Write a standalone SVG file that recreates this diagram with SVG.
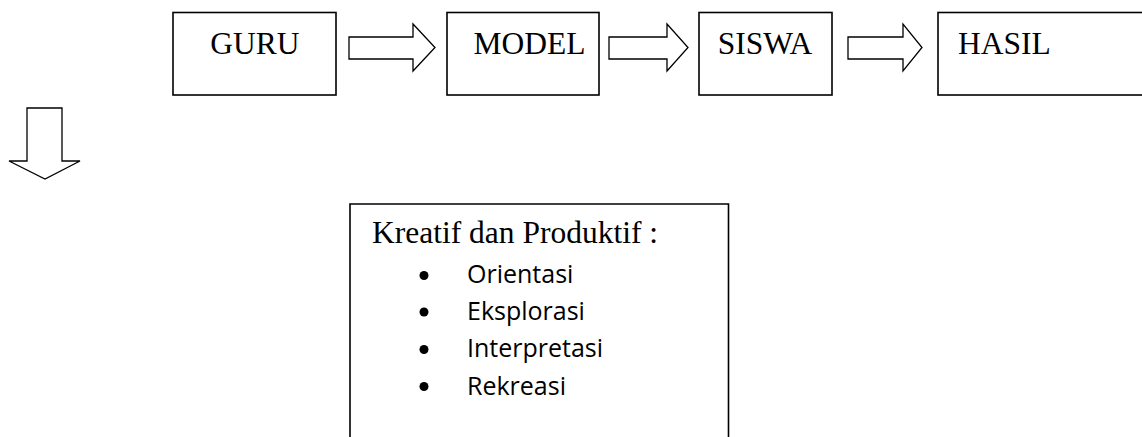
<svg xmlns="http://www.w3.org/2000/svg" width="1142" height="437" viewBox="0 0 1142 437">
<style>
.box{fill:#fff;stroke:#000;stroke-width:1.6}
.arr{fill:#fff;stroke:#000;stroke-width:1.3;stroke-linejoin:miter}
.t{font-family:"Liberation Serif","Times New Roman",serif;font-size:31.5px;fill:#000}
.b{font-family:"Open Sans","Noto Sans",sans-serif;font-size:25px;fill:#000}
</style>
<rect width="1142" height="437" fill="#fff"/>
<g id="guru"><rect class="box" x="173" y="12.5" width="163" height="82.5"/><text class="t" x="255" y="54" text-anchor="middle">GURU</text></g>
<g id="model"><rect class="box" x="447" y="12.5" width="152" height="82.5"/><text class="t" x="529.5" y="54" text-anchor="middle">MODEL</text></g>
<g id="siswa"><rect class="box" x="699" y="12.5" width="133" height="82.5"/><text class="t" x="765" y="54" text-anchor="middle">SISWA</text></g>
<g id="hasil"><rect class="box" x="938" y="12.5" width="210" height="82.5"/><text class="t" x="958" y="54">HASIL</text></g>
<g id="hasil-detail"><path class="box" d="M350,445 V204 H728.5 V445"/>
<text class="t" x="372" y="243">Kreatif dan Produktif :</text>
<circle cx="424" cy="275.5" r="4.5"/><text class="b" x="467" y="282.5">Orientasi</text>
<circle cx="424" cy="312" r="4.5"/><text class="b" x="467" y="319.5">Eksplorasi</text>
<circle cx="424" cy="349.5" r="4.5"/><text class="b" x="467" y="357">Interpretasi</text>
<circle cx="424" cy="386.5" r="4.5"/><text class="b" x="467" y="394.5">Rekreasi</text>
</g>
<g id="connectors">
<path class="arr" d="M349,37 H413 V24 L435,47.5 L413,71 V59 H349 Z"/>
<path class="arr" d="M609,37 H667 V24 L688,47.5 L667,71 V59 H609 Z"/>
<path class="arr" d="M848,37 H903 V24 L922,47.5 L903,71 V59 H848 Z"/>
<path class="arr" d="M27,108 H62 V161 H80 L45,179 L9,161 H27 Z"/>
</g>
</svg>
